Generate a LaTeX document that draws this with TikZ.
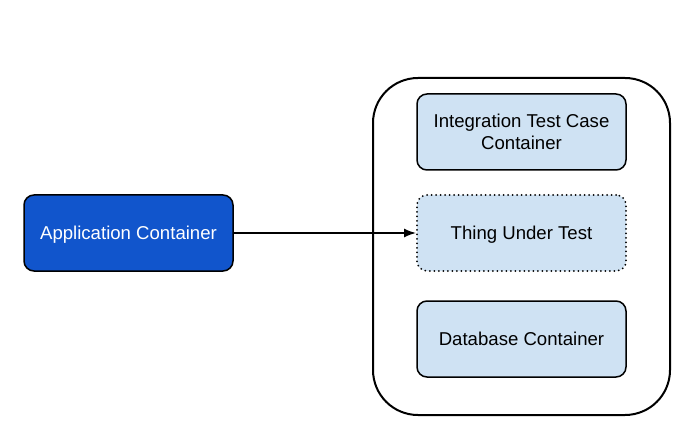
\documentclass[tikz,border=0pt]{standalone}
\usepackage{fontspec}
\setmainfont{Liberation Sans}
\usetikzlibrary{arrows.meta}
\definecolor{darkblue}{HTML}{1155CC}
\definecolor{lightblue}{HTML}{CFE2F3}
\begin{document}
\begin{tikzpicture}[x=1pt,y=-1pt,
  box/.style={draw=black, line width=1.5pt, rounded corners=10pt, minimum width=209pt, minimum height=76pt, align=center, font=\fontsize{18.6}{22}\selectfont, inner sep=0pt, text depth=0pt},
  dotbox/.style={draw=black, line width=2pt, line cap=round, dash pattern=on 0pt off 4.5pt},
  conn/.style={line width=1.5pt, -{Latex[length=12pt,width=9pt]}}]
\useasboundingbox (0,0) rectangle (695,446);
\node[draw=black, line width=2pt, rounded corners=45pt, minimum width=297pt, minimum height=337pt, inner sep=0pt] (outer) at (521.5,246.5) {};
\node[box, fill=darkblue, text=white] (app) at (128.5,233) {Application Container};
\node[box, fill=lightblue] (itc) at (521.5,132) {Integration Test Case\\Container};
\node[box, fill=lightblue, dotbox] (tut) at (521.5,233) {Thing Under Test};
\node[box, fill=lightblue] (db) at (521.5,339) {Database Container};
\draw[conn] (app) -- (tut);
\end{tikzpicture}
\end{document}
